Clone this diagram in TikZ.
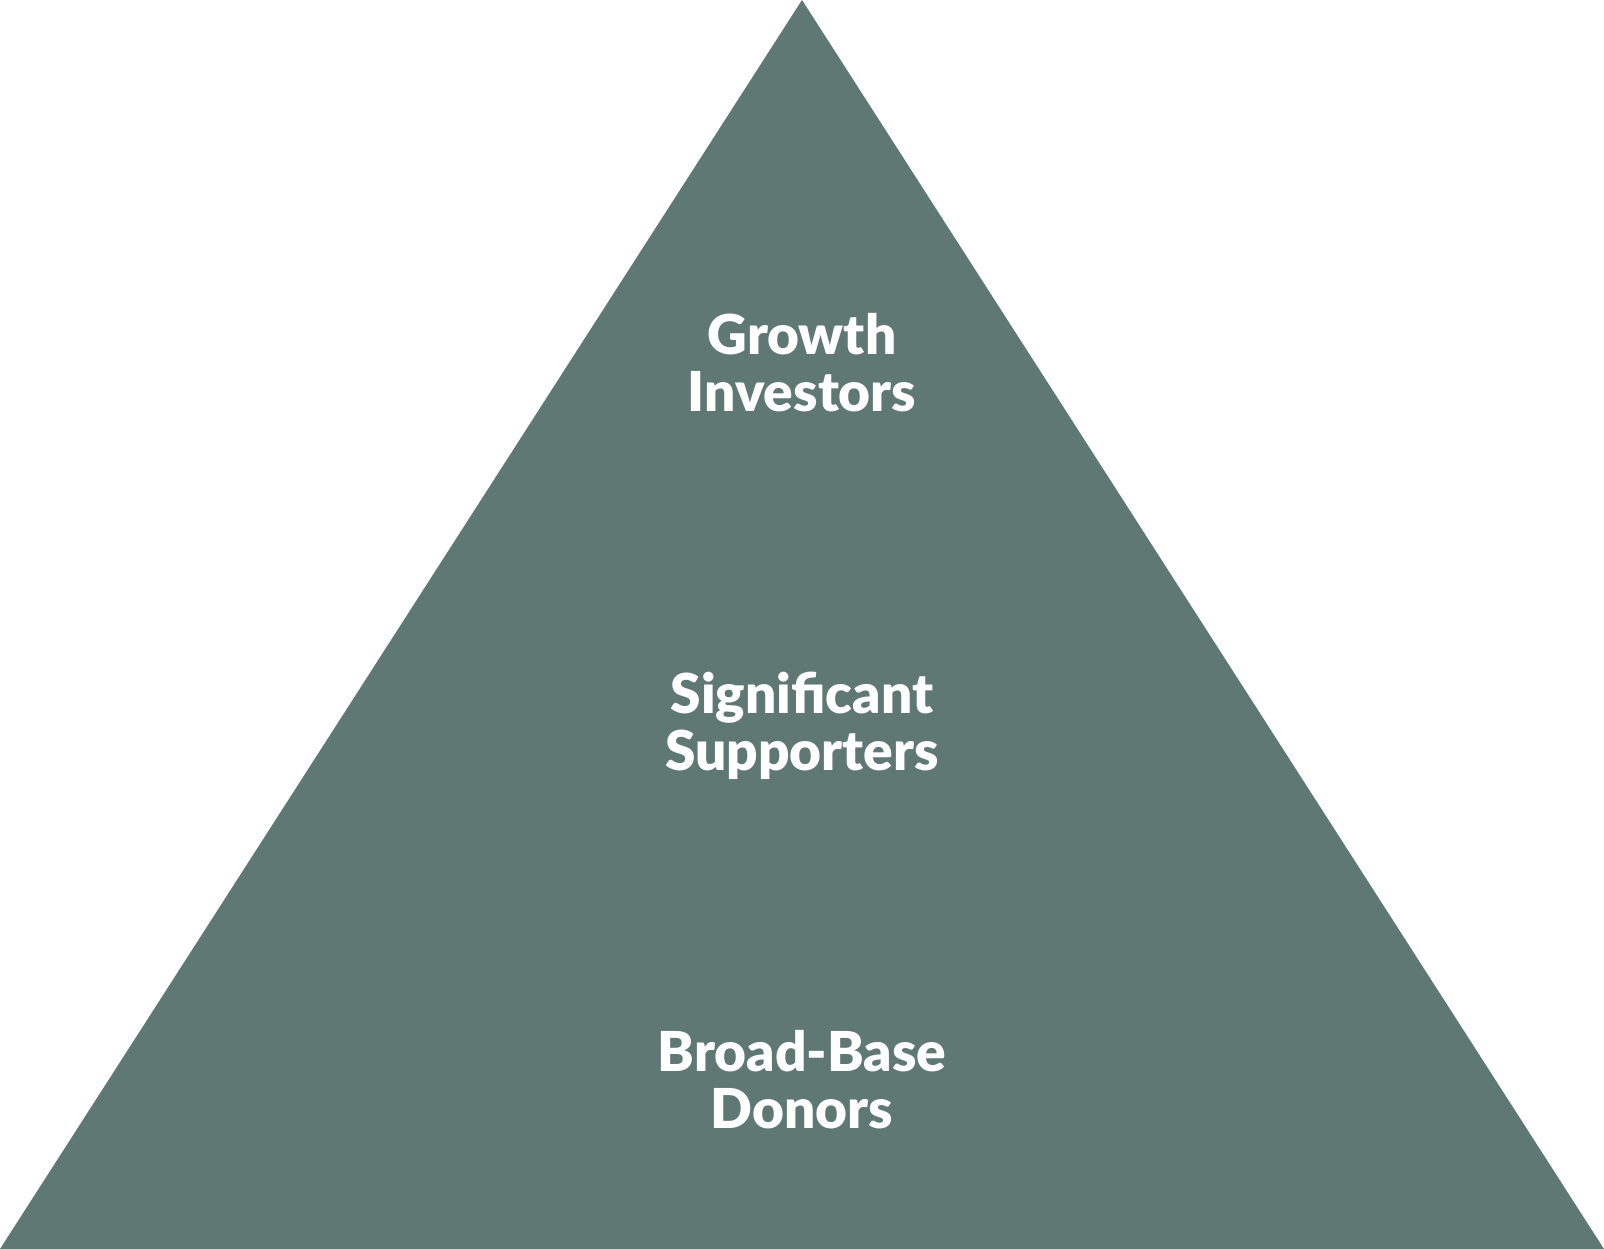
\documentclass[tikz,border=0pt]{standalone}
\usepackage{fontspec}
\setmainfont{Lato}[UprightFont=* Black, BoldFont=* Black]
\definecolor{pyr}{RGB}{95,120,116}
\begin{document}
\begin{tikzpicture}[x=1pt,y=-1pt,
  lbl/.style={text=white, align=center, font=\fontsize{55}{57}\selectfont, inner sep=0pt}]
\useasboundingbox (0,0) rectangle (1604,1249);
\fill[pyr] (802,0) coordinate (apex) -- (0,1249) coordinate (bl) -- (1604,1249) coordinate (br) -- cycle;
\node[lbl] (top) at (802,363) {Growth\\Investors};
\node[lbl] (mid) at (802,726) {Significant\\Supporters};
\node[lbl] (bot) at (802,1080) {Broad-Base\\Donors};
\end{tikzpicture}
\end{document}
